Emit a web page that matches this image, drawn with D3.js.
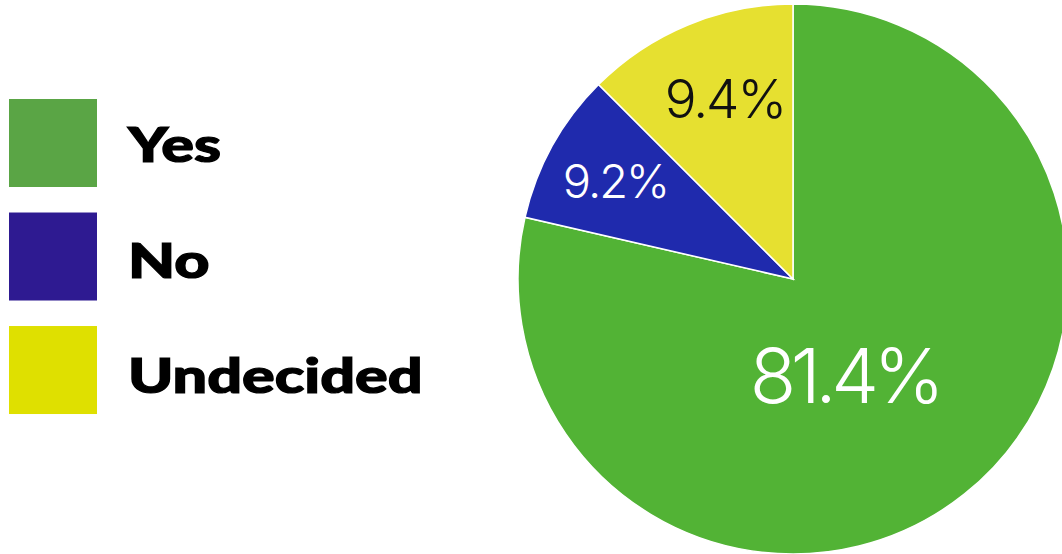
<!DOCTYPE html>
<html><head><meta charset="utf-8">
<script src="https://cdn.jsdelivr.net/npm/d3@7"></script>
<style>html,body{margin:0;padding:0;background:#fff;overflow:hidden}</style>
</head><body>
<svg id="c" width="1062" height="554"></svg>
<script>
const categories = ["Yes", "No", "Undecided"];
// slice shares as drawn in the picture
const sliceValues = [78.6, 8.9, 12.5];
const labelTexts = ["81.4%", "9.2%", "9.4%"];
const pieColors = ["#52b335", "#1f2aad", "#e6e030"];
const legendColors = ["#5aa545", "#2e1a91", "#dfe000"];
const labelColors = ["#ffffff", "#ffffff", "#111111"];

const svg = d3.select("#c");
const cx = 793, cy = 279, R = 275;

const pie = d3.pie().sort(null).value(d => d)(sliceValues);
const arc = d3.arc().innerRadius(0).outerRadius(R);
const g = svg.append("g").attr("transform", `translate(${cx},${cy})`);
g.selectAll("path").data(pie).join("path")
  .attr("d", arc)
  .attr("fill", (d, i) => pieColors[i])
  .attr("stroke", "#ffffff")
  .attr("stroke-width", 1.5);

const labelR = [109, 203, 192];
const labelShift = [0.18, 0, 0.03]; // radians, angular nudge of label
const labelSize = [76, 47, 53];
const labelSpacing = [-5.5, -2, -2];
g.selectAll("text.lbl").data(pie).join("text")
  .attr("class", "lbl")
  .attr("transform", (d, i) => {
    const a = (d.startAngle + d.endAngle) / 2 + labelShift[i];
    const x = Math.sin(a) * labelR[i], y = -Math.cos(a) * labelR[i];
    return `translate(${x},${y})`;
  })
  .attr("text-anchor", "middle")
  .attr("dominant-baseline", "central")
  .attr("font-family", "Inter, 'Liberation Sans', sans-serif")
  .attr("font-weight", 300)
  .attr("font-size", (d, i) => labelSize[i])
  .attr("letter-spacing", (d, i) => labelSpacing[i])
  .attr("fill", (d, i) => labelColors[i])
  .text((d, i) => labelTexts[i]);

// legend
const ly = d3.scaleBand().domain(categories).range([99, 414]).paddingInner(0.225).paddingOuter(0);
const leg = svg.append("g");
leg.selectAll("rect").data(categories).join("rect")
  .attr("x", 9).attr("y", d => ly(d))
  .attr("width", 88).attr("height", 88)
  .attr("fill", (d, i) => legendColors[i]);
leg.selectAll("text").data(categories).join("text")
  .attr("transform", (d, i) => `translate(128,${ly(d) + 63 + i * 2}) scale(1.3,1)`)
  .attr("font-family", "Lato, 'Noto Sans', sans-serif")
  .attr("font-weight", 900)
  .attr("font-size", 47)
  .attr("fill", "#000")
  .attr("stroke", "#000")
  .attr("stroke-width", 1.2)
  .text(d => d);
</script>
</body></html>
